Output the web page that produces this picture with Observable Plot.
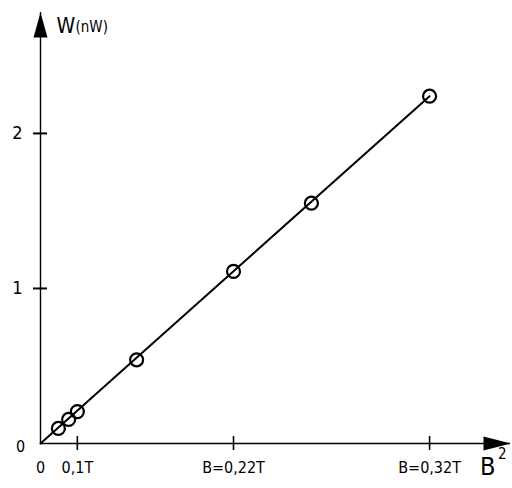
<!DOCTYPE html>
<html>
<head>
<meta charset="utf-8">
<script src="https://cdn.jsdelivr.net/npm/d3@7"></script>
<script src="https://cdn.jsdelivr.net/npm/@observablehq/plot@0.6"></script>
<style>
  html, body { margin: 0; padding: 0; background: #fff; }
  #chart svg { display: block; }
  #chart svg text { font-stretch: condensed; }
</style>
</head>
<body>
<div id="chart"></div>
<script>
// B^2 (T^2) of the measurement points and absorbed power W (nW)
const b2 = [0.0047, 0.0074, 0.0097, 0.0253, 0.0508, 0.0713, 0.1024];
const w  = [0.097, 0.155, 0.206, 0.54, 1.11, 1.55, 2.24];
// fitted straight line through the origin
const fitB2 = [0, 0.1024];
const fitW  = [0, 2.24];
// axis ticks
const xTicks = [0.0097, 0.0508, 0.1024];
const xTickLabels = ["0,1T", "B=0,22T", "B=0,32T"];
const yTicks = [1, 2];
const yTickLabels = ["1", "2"];
const xMax = 0.1237, yMax = 2.78;

const points = b2.map((x, i) => ({x, y: w[i]}));
const fit = fitB2.map((x, i) => ({x, y: fitW[i]}));

const upArrow = {draw(ctx) { ctx.moveTo(0, 0); ctx.lineTo(-7, 25); ctx.lineTo(7, 25); ctx.closePath(); }};
const rightArrow = {draw(ctx) { ctx.moveTo(0, 0); ctx.lineTo(-27, -7); ctx.lineTo(-27, 7); ctx.closePath(); }};

const font = "'DejaVu Sans', sans-serif";

const chart = Plot.plot({
  width: 512,
  height: 488,
  marginLeft: 40,
  marginRight: 2,
  marginTop: 12,
  marginBottom: 45,
  style: {fontFamily: font, color: "#000", background: "#fff"},
  x: {domain: [0, xMax], axis: null},
  y: {domain: [0, yMax], axis: null},
  marks: [
    Plot.ruleY([0], {x1: 0, x2: xMax, stroke: "#000", strokeWidth: 1.7}),
    Plot.ruleX([0], {y1: 0, y2: yMax, stroke: "#000", strokeWidth: 1.4}),
    Plot.dot([{x: 0, y: yMax}], {x: "x", y: "y", symbol: upArrow, fill: "#000", stroke: "none"}),
    Plot.dot([{x: xMax, y: 0}], {x: "x", y: "y", symbol: rightArrow, fill: "#000", stroke: "none"}),
    Plot.ruleY(yTicks, {x1: 0, x2: 0, insetLeft: -7, insetRight: -7, stroke: "#000", strokeWidth: 2}),
    Plot.ruleX(xTicks, {y1: 0, y2: 0, insetTop: -7, insetBottom: -7, stroke: "#000", strokeWidth: 1.6}),
    Plot.text(yTicks, {x: 0, y: d => d, text: (d, i) => yTickLabels[i], dx: -18, textAnchor: "end", fontSize: 18}),
    Plot.text(["0"], {x: 0, y: 0, dx: -20, dy: 3, fontSize: 16}),
    Plot.text(["0"], {x: 0, y: 0, dy: 24, fontSize: 16}),
    Plot.text(xTicks, {x: d => d, y: 0, text: (d, i) => xTickLabels[i], dy: 24, fontSize: 16}),
    Plot.line(fit, {x: "x", y: "y", stroke: "#000", strokeWidth: 2}),
    Plot.dot(points, {x: "x", y: "y", r: 6.5, stroke: "#000", strokeWidth: 2.2, fill: "none"}),
    Plot.text(["W"], {frameAnchor: "top-left", dx: 16, dy: 6, textAnchor: "start", fontSize: 21}),
    Plot.text(["(nW)"], {frameAnchor: "top-left", dx: 35, dy: 9, textAnchor: "start", fontSize: 15}),
    Plot.text(["B"], {frameAnchor: "bottom-right", dx: -15, dy: 31, fontSize: 25}),
    Plot.text(["2"], {frameAnchor: "bottom-right", dx: -4, dy: 15, fontSize: 15})
  ]
});
document.getElementById("chart").appendChild(chart);
</script>
</body>
</html>
